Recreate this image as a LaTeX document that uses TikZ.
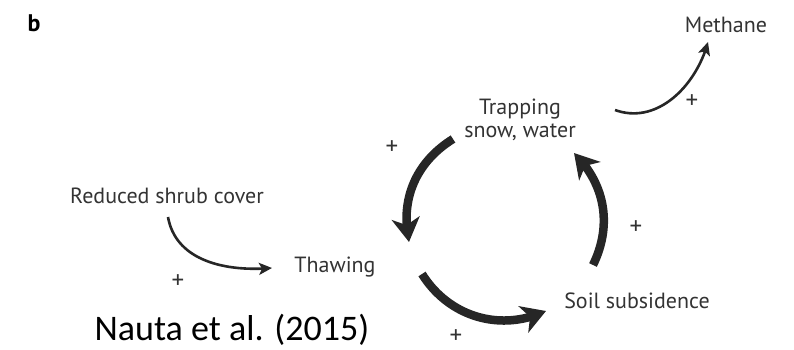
\documentclass[tikz,border=0pt]{standalone}
\usepackage{fontspec}
\setmainfont{PT Sans}
\newfontfamily\citafont{Carlito}
\usetikzlibrary{arrows.meta,bending}
\begin{document}
\begin{tikzpicture}[x=1pt, y=1pt,
    every node/.style={font=\fontsize{22}{23.5}\selectfont, text=black!80, align=center, inner sep=2pt},
    flecha/.style={line width=2.6pt, draw=black!85, -{Stealth[length=13pt,width=12pt,inset=3pt]}},
    ciclo/.style={line width=8.5pt, draw=black!85, -{Stealth[length=24pt,width=28pt,inset=7pt]}},
    signo/.style={font=\fontsize{25}{25}\selectfont, inner sep=0pt}
  ]
  \useasboundingbox (0,0) rectangle (794,350);
  \node[font=\bfseries\fontsize{24}{26}\selectfont, text=black] (etiq) at (34,327) {b};
  \node (meth) at (726,325) {Methane};
  \node (trap) at (520,230) {Trapping\\snow, water};
  \node (rsc)  at (167,154) {Reduced shrub cover};
  \node (thaw) at (335,83)  {Thawing};
  \node (soil) at (637,49)  {Soil subsidence};
  \node[font=\citafont\fontsize{36}{40}\selectfont, text=black] (cita) at (232,20) {Nauta et al. (2015)};
  \node[signo] (s1) at (692,248) {+};
  \node[signo] (s2) at (392,202) {+};
  \node[signo] (s3) at (178,68)  {+};
  \node[signo] (s4) at (456,13)  {+};
  \node[signo] (s5) at (636,122) {+};
  \draw[flecha] ([shift={(1,-21)}]rsc.center) to[out=-80,in=185] ([shift={(-63,-1)}]thaw.center);
  \draw[flecha] ([shift={(95,10)}]trap.center) to[out=-20,in=255] ([shift={(-18,-17)}]meth.center);
  \draw[ciclo] ([shift={(-67,-19)}]trap.center) to[out=212,in=102] ([shift={(74,25)}]thaw.center);
  \draw[ciclo] ([shift={(87,-7)}]thaw.center) to[out=302,in=205] ([shift={(-91,-10)}]soil.center);
  \draw[ciclo] ([shift={(-44,36)}]soil.center) to[out=64,in=-45] ([shift={(54,-33)}]trap.center);
\end{tikzpicture}
\end{document}
